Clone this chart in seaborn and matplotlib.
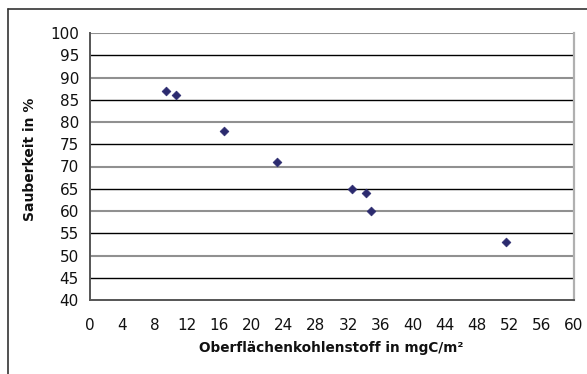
import matplotlib
matplotlib.use("Agg")
import matplotlib.pyplot as plt
from matplotlib.lines import Line2D
import seaborn as sns
import pandas as pd

carbon = [9.4, 10.7, 16.6, 23.2, 32.5, 34.2, 34.8, 51.6]
cleanliness = [87, 86, 78, 71, 65, 64, 60, 53]
x_ticks = list(range(0, 61, 4))
y_ticks = list(range(40, 101, 5))

df = pd.DataFrame({"carbon": carbon, "clean": cleanliness})

sns.set_style("white")
plt.rcParams['font.family'] = ['DejaVu Sans']

fig = plt.figure(figsize=(5.87, 3.74), dpi=100)
ax = fig.add_axes([90/587, 74/374, (574-90)/587, (300-33)/374])

for y in y_ticks[1:]:
    black = (y % 10 == 5)
    ax.axhline(y, color='#000000' if black else '#909090', lw=1.0 if black else 1.5, zorder=1)

sns.scatterplot(data=df, x="carbon", y="clean", ax=ax, marker="D", s=20,
                color="#2b2a6e", edgecolor="#2b2a6e", linewidth=0.5, zorder=3)

ax.set_xlim(0, 60)
ax.set_ylim(40, 100)
ax.set_xticks(x_ticks)
ax.set_yticks(y_ticks)
ax.tick_params(axis='x', direction='in', length=5, width=1, color='#555555',
               labelsize=11, labelcolor='#111111', pad=13)
ax.tick_params(axis='y', direction='out', length=5, width=1, color='#555555',
               labelsize=11, labelcolor='#111111', pad=3)
for s in ['left', 'bottom']:
    ax.spines[s].set_color('#555555')
    ax.spines[s].set_linewidth(1.4)
ax.spines['right'].set_color('#b0b0b0')
ax.spines['right'].set_linewidth(1.6)
ax.spines['top'].set_visible(False)

ax.set_xlabel("Oberflächenkohlenstoff in mgC/m²", fontsize=9.8, fontweight='bold', color='#111111')
ax.set_ylabel("Sauberkeit in %", fontsize=10, fontweight='bold', color='#111111')
ax.xaxis.set_label_coords(0.499, -0.155)
ax.yaxis.set_label_coords(-0.109, 0.528)

# outer frame lines
fig.add_artist(Line2D([8/587, 8/587], [0, 1 - 9/374], color='#333333', lw=1.2, transform=fig.transFigure))
fig.add_artist(Line2D([8/587, 1], [1 - 9/374, 1 - 9/374], color='#333333', lw=1.2, transform=fig.transFigure))

fig.savefig("out.png", dpi=100)
